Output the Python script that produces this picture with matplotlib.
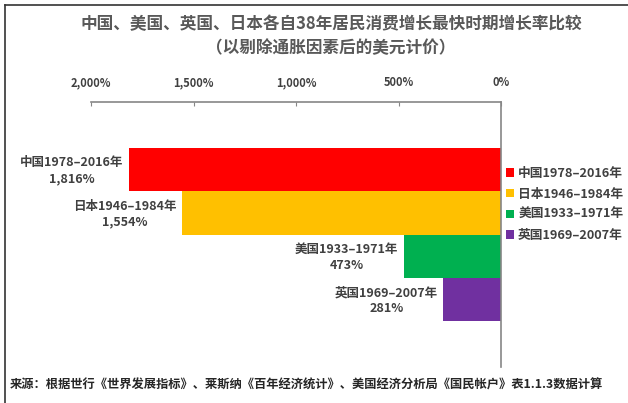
import numpy as np
import matplotlib.pyplot as plt
from matplotlib.lines import Line2D

plt.rcParams['font.family'] = ['Noto Sans CJK SC', 'DejaVu Sans']

# 数据
names = ['中国1978–2016年', '日本1946–1984年', '美国1933–1971年', '英国1969–2007年']
values = [1816, 1554, 473, 281]
value_text = ['1,816%', '1,554%', '473%', '281%']
colors = ['#FF0000', '#FFC000', '#00B050', '#7030A0']
ticks = [2000, 1500, 1000, 500, 0]
tick_labels = ['2,000%', '1,500%', '1,000%', '500%', '0%']

title = '中国、美国、英国、日本各自38年居民消费增长最快时期增长率比较\n（以剔除通胀因素后的美元计价）'
source = '来源：根据世行《世界发展指标》、莱斯纳《百年经济统计》、美国经济分析局《国民帐户》表1.1.3数据计算'

fig = plt.figure(figsize=(6.28, 4.03), dpi=100)
ax = fig.add_axes([0.1449, 0.0893, 0.6529, 0.6576])

pos = np.arange(len(values))
bars = ax.barh(pos, values, height=1.0, color=colors, label=names)

ax.set_xlim(2000, 0)
ax.set_ylim(4.56, -1.56)

ax.xaxis.tick_top()
ax.set_xticks(ticks)
ax.set_xticklabels(tick_labels, fontsize=8, fontweight='bold', color='#404040')
ax.tick_params(axis='x', direction='in', length=3, color='#868686', pad=9)
ax.set_yticks([])
for s in ['left', 'bottom']:
    ax.spines[s].set_visible(False)
for s in ['top', 'right']:
    ax.spines[s].set_color('#868686')
    ax.spines[s].set_linewidth(1.2)

# 条形旁的标注
for i in range(len(values)):
    ax.annotate(names[i] + '\n' + value_text[i], xy=(values[i], pos[i]),
                xytext=(-4, -1), textcoords='offset points',
                ha='right', va='center', multialignment='center',
                fontsize=9, fontweight='bold', color='#404040', linespacing=1.3)

leg = fig.legend(handles=list(bars), labels=names, loc='upper left',
                 bbox_to_anchor=(506 / 628, 1 - 167 / 403), frameon=False,
                 handlelength=0.6, handleheight=0.6, handletextpad=0.35,
                 labelspacing=0.6, borderaxespad=0, borderpad=0,
                 prop={'size': 9.2, 'weight': 'bold'})
for t in leg.get_texts():
    t.set_color('#404040')

fig.text(0.527, 1 - 36 / 403, title, ha='center', va='center', fontsize=12,
         fontweight='bold', color='#595959', linespacing=1.45)
fig.text(10 / 628, 1 - 385 / 403, source, ha='left', va='center', fontsize=8.85,
         fontweight='bold', color='#262626')

# 外框
fig.add_artist(Line2D([5 / 628, 1], [1 - 5 / 403] * 2, color='#333333', lw=1.2))
fig.add_artist(Line2D([5 / 628] * 2, [0, 1 - 5 / 403], color='#333333', lw=1.2))

fig.savefig('out.png', dpi=100)
